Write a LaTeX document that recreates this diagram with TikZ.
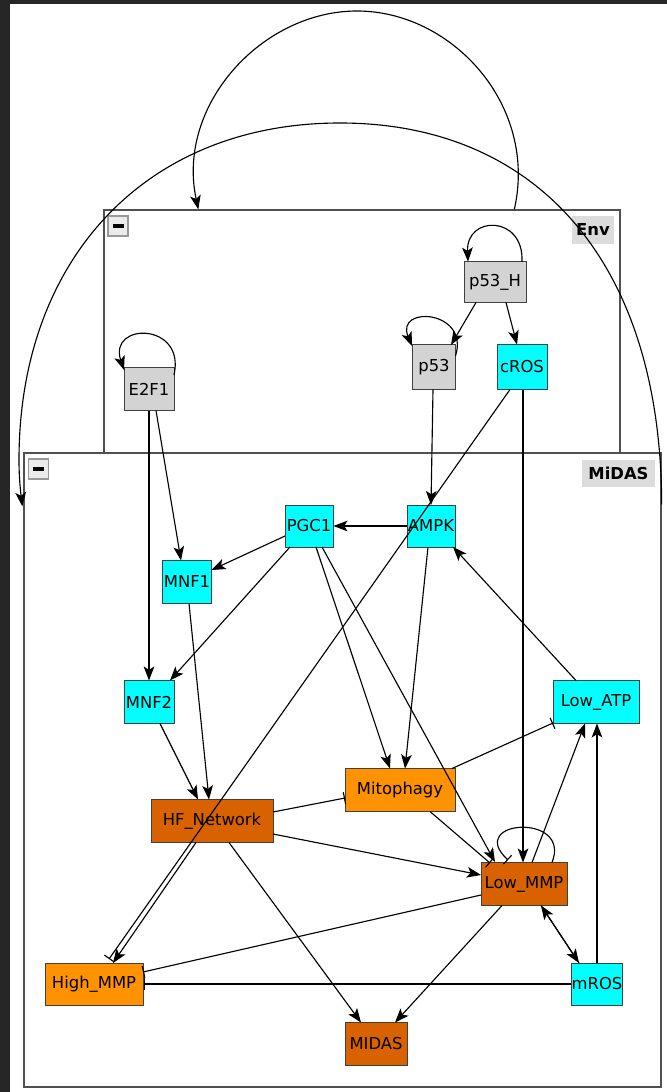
\documentclass[tikz,border=0pt]{standalone}
\usepackage{fontspec}
\setmainfont{DejaVu Sans}
\usetikzlibrary{arrows.meta,calc}
\definecolor{bgdark}{RGB}{38,38,38}
\definecolor{gfill}{RGB}{211,211,211}
\definecolor{cfill}{RGB}{0,255,255}
\definecolor{ofill}{RGB}{255,146,0}
\definecolor{dfill}{RGB}{217,98,0}
\definecolor{lblfill}{RGB}{220,220,220}
\definecolor{framecol}{RGB}{80,80,80}
\tikzset{
  sz/.style 2 args={minimum width=#1*0.75pt, minimum height=#2*0.75pt},
  box/.style={draw=black!75, line width=0.75pt, inner sep=0pt, font=\fontsize{12.3}{14}\selectfont},
  gbox/.style={box, fill=gfill},
  cbox/.style={box, fill=cfill},
  obox/.style={box, fill=ofill},
  dbox/.style={box, fill=dfill},
  compound/.style={draw=framecol, line width=1pt, inner sep=0pt},
  grouplabel/.style={fill=lblfill, inner sep=0pt, font=\fontsize{12.3}{14}\selectfont\bfseries},
  minusbtn/.style={draw=black!40, fill=black!8, line width=0.8pt, inner sep=0pt,
    minimum width=15pt, minimum height=15pt,
    path picture={\fill[black] ($(path picture bounding box.center)+(-5.5,-1.8)$) rectangle ++(11,3.6);}},
  edge/.style={draw=black, line width=0.85pt},
  act/.style={edge, -{Stealth[length=10.5pt,width=8pt,inset=2.5pt]}},
  inh/.style={edge, -{Bar[width=9pt,line width=0.85pt]}},
}
\begin{document}
\begin{tikzpicture}[x=0.75pt,y=-0.75pt]
\useasboundingbox (0,0) rectangle (667,1092);
\fill[bgdark] (0,0) rectangle (667,1092);
\fill[white] (10,4) rectangle (667,1092);

% compound boxes
\node[compound, sz={516}{243}] (Env) at (362,331.5) {};
\node[compound, sz={637}{634}] (MiDAS) at (342.5,770) {};
\node[grouplabel, sz={42}{28}] (envlbl) at (593,230) {Env};
\node[grouplabel, sz={73}{27}] (midaslbl) at (618.5,473.5) {MiDAS};
\node[minusbtn] (envbtn) at (118,226) {};
\node[minusbtn] (midasbtn) at (38.5,469) {};

% nodes
\node[gbox, sz={62}{41}] (p53H) at (495,282) {p53\_H};
\node[gbox, sz={43}{45}] (p53) at (434,367) {p53};
\node[cbox, sz={50}{45}] (cROS) at (522,367) {cROS};
\node[gbox, sz={50}{43}] (E2F1) at (149,389) {E2F1};
\node[cbox, sz={48}{42}] (PGC1) at (309,526) {PGC1};
\node[cbox, sz={48}{42}] (AMPK) at (431,526) {AMPK};
\node[cbox, sz={49}{43}] (MNF1) at (187,582) {MNF1};
\node[cbox, sz={50}{43}] (MNF2) at (149,702) {MNF2};
\node[cbox, sz={86}{43}] (LowATP) at (596,702) {Low\_ATP};
\node[obox, sz={110}{43}] (Mito) at (400,790) {Mitophagy};
\node[dbox, sz={122}{43}] (HF) at (212,821) {HF\_Network};
\node[dbox, sz={86}{43}] (LowMMP) at (524,884) {Low\_MMP};
\node[obox, sz={98}{42}] (HighMMP) at (94,984) {High\_MMP};
\node[cbox, sz={50}{42}] (mROS) at (597,984) {mROS};
\node[dbox, sz={62}{43}] (MIDAS) at (376,1044) {MIDAS};

% compound self-loops
\draw[act] ($(Env.north west)+(411,0)$) .. controls (538,105) and (452,11) .. (357,11)
  .. controls (262,11) and (176,105) .. ($(Env.north west)+(95,0)$);
\draw[act] ($(MiDAS.north east)+(0,52)$) .. controls (661,260) and (535,123) .. (340,123)
  .. controls (145,123) and (19,260) .. (19,460)
  .. controls (19,480) and (21,495) .. ($(MiDAS.north west)+(-1,54)$);

% node self-loops
\draw[act] ($(p53H)+(27,-20.5)$) .. controls ($(p53H)+(29,-67)$) and ($(p53H)+(-29,-67)$) .. ($(p53H)+(-27,-20.5)$);
\draw[act] ($(p53)+(21.5,-11)$) .. controls ($(p53)+(36,-57)$) and ($(p53)+(-39,-62)$) .. ($(p53)+(-22,-21)$);
\draw[act] ($(E2F1)+(25,-14)$) .. controls ($(E2F1)+(37,-67)$) and ($(E2F1)+(-41,-67)$) .. ($(E2F1)+(-25,-19)$);
\draw[inh] ($(LowMMP)+(28,-21.5)$) .. controls ($(LowMMP)+(48,-72)$) and ($(LowMMP)+(-59,-64)$) .. ($(LowMMP)+(-16,-24)$);

% edges
\draw[act] ($(p53H)+(-19,20.5)$) -- ($(p53)+(17,-22)$);
\draw[act] ($(p53H)+(11,20.5)$) -- ($(cROS)+(-5,-22.5)$);
\draw[act] ($(E2F1)+(7,21.5)$) -- ($(MNF1)+(-6,-21.5)$);
\draw[act] ($(E2F1)+(0,21.5)$) -- ($(MNF2)+(0,-21.5)$);
\draw[act] ($(p53)+(-1,22.5)$) -- ($(AMPK)+(0,-21)$);
\draw[inh] ($(cROS)+(-12,22.5)$) -- ($(HighMMP)+(15,-25)$);
\draw[act] ($(cROS)+(1,22.5)$) -- ($(LowMMP)+(-1,-21.5)$);
\draw[act] (AMPK.west) -- (PGC1.east);
\draw[act] ($(AMPK)+(-3,21)$) -- ($(Mito)+(5,-21.5)$);
\draw[act] ($(PGC1)+(-24,10)$) -- ($(MNF1)+(24.5,-12)$);
\draw[act] ($(PGC1)+(-19,21)$) -- ($(MNF2)+(21,-21.5)$);
\draw[act] ($(PGC1)+(7,21)$) -- ($(Mito)+(-10,-21.5)$);
\draw[act] ($(PGC1)+(13,21)$) -- ($(LowMMP)+(-29,-22)$);
\draw[act] ($(MNF1)+(2,21.5)$) -- ($(HF)+(-3,-21.5)$);
\draw[act] ($(MNF2)+(11,21.5)$) -- ($(HF)+(-14,-21.5)$);
\draw[act] ($(LowATP)+(-20,-21.5)$) -- ($(AMPK)+(22,21)$);
\draw[inh] ($(Mito)+(52,-21.5)$) -- ($(LowATP)+(-43,21)$);
\draw[inh] ($(HF)+(61,-9)$) -- ($(Mito)+(-55,8)$);
\draw[act] ($(HF)+(61,13)$) -- ($(LowMMP)+(-43,-9)$);
\draw[act] ($(HF)+(17,21.5)$) -- ($(MIDAS)+(-15,-21.5)$);
\draw[act] ($(HF)+(-16,21.5)$) -- ($(HighMMP)+(19,-21)$);
\draw[inh] ($(Mito)+(30,21.5)$) -- ($(LowMMP)+(-34,-21)$);
\draw[act] ($(LowMMP)+(8,-21.5)$) -- ($(LowATP)+(-11,21.5)$);
\draw[act] ($(mROS)+(0,-21)$) -- ($(LowATP)+(1,21.5)$);
\draw[act] ($(LowMMP)+(17,21.5)$) -- ($(mROS)+(-18,-21)$);
\draw[act] ($(mROS)+(-18,-21)$) -- ($(LowMMP)+(17,21.5)$);
\draw[inh] ($(LowMMP)+(-43,11)$) -- ($(HighMMP)+(49,-12)$);
\draw[inh] (mROS.west) -- (HighMMP.east);
\draw[act] ($(LowMMP)+(-22,21.5)$) -- ($(MIDAS)+(19,-21.5)$);
\end{tikzpicture}
\end{document}
